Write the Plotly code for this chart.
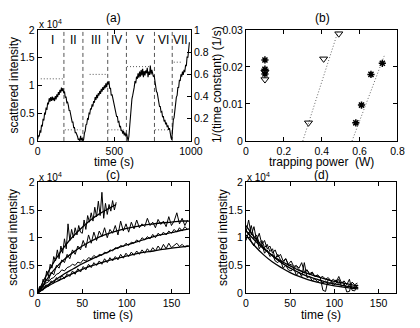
import plotly.graph_objects as go

FONT = "Liberation Sans"

# ---------------- panel (a) ----------------
a_intensity = [  # x 10^4, sampled every 5 s
    0.03,0.10,0.08,0.19,0.15,0.29,0.26,0.40,0.37,0.50,
    0.49,0.60,0.56,0.69,0.66,0.77,0.71,0.79,0.72,0.80,
    0.73,0.78,0.72,0.81,0.75,0.84,0.79,0.88,0.83,0.92,
    0.87,0.96,0.90,0.95,0.86,0.89,0.78,0.80,0.69,0.70,
    0.64,0.55,0.55,0.45,0.44,0.34,0.34,0.24,0.24,0.15,
    0.15,0.08,0.08,0.02,0.04,0.00,0.09,0.01,0.05,0.00,
    0.03,0.14,0.18,0.29,0.30,0.40,0.39,0.50,0.49,0.59,
    0.57,0.66,0.62,0.72,0.69,0.79,0.74,0.83,0.77,0.86,
    0.82,0.90,0.85,0.94,0.89,0.97,0.92,1.00,0.95,1.04,
    0.97,1.06,1.02,1.08,0.94,0.96,0.82,0.84,0.72,0.71,
    0.64,0.55,0.54,0.44,0.44,0.34,0.35,0.25,0.27,0.18,
    0.20,0.13,0.18,0.10,0.15,0.08,0.13,0.04,0.00,0.08,
    0.28,0.48,0.57,0.76,0.82,0.96,0.97,1.08,1.04,1.16,
    1.12,1.22,1.14,1.25,1.16,1.28,1.18,1.30,1.15,1.26,
    1.18,1.27,1.22,1.32,1.15,1.25,1.19,1.36,1.20,1.28,
    1.24,1.16,1.18,1.05,1.02,0.89,0.87,0.75,0.72,0.62,
    0.62,0.52,0.53,0.43,0.45,0.35,0.38,0.30,0.33,0.25,
    0.28,0.20,0.23,0.12,0.06,0.02,0.22,0.38,0.42,0.58,
    0.62,0.79,0.82,0.97,0.96,1.10,1.08,1.20,1.16,1.25,
    1.19,1.28,1.24,1.36,1.35,1.52,1.50,1.70,1.78,
]
a_time = [5 * i for i in range(len(a_intensity))]

region_bounds = [171, 295, 457, 579, 762, 878]
region_labels = ["I", "II", "III", "IV", "V", "VI", "VII"]
region_label_t = [96, 232, 380, 516, 665, 821, 929]

power_level = [0.56, 0.10, 0.60, 0.10, 0.67, 0.10, 0.71]
power_start = [20, 177, 339, 461, 583, 766, 888]
power_end = [167, 278, 451, 563, 736, 858, 939]

# ---------------- panel (b) ----------------
star_power = [0.10, 0.10, 0.10, 0.58, 0.61, 0.66, 0.72]
star_rate = [0.0219, 0.0194, 0.0181, 0.0049, 0.0097, 0.0180, 0.0210]
tri_power = [0.10, 0.10, 0.33, 0.41, 0.49]
tri_rate = [0.0186, 0.0166, 0.0049, 0.0222, 0.0290]
fit_tri_x = [0.30, 0.485]
fit_tri_y = [0.0, 0.0295]
fit_star_x = [0.56, 0.73]
fit_star_y = [0.0, 0.023]

# ---------------- panel (c) ----------------
c1 = [0.0,0.12,0.05,0.25,0.18,0.40,0.30,0.52,0.45,0.66,
      0.58,0.78,0.62,0.85,0.72,0.98,0.80,1.25,0.95,1.15,
      1.0,1.18,1.05,1.22,1.10,1.08,1.32,1.15,1.40,1.28,
      1.45,1.30,1.55,1.38,1.66,1.40,1.82,1.35,1.62,1.42,
      1.60,1.48,1.67,1.50,1.64]
c2 = [0.02,0.12,0.10,0.25,0.22,0.38,0.33,0.50,0.45,0.60,
      0.55,0.70,0.62,0.78,0.70,0.85,0.78,0.95,0.82,1.05,
      0.90,1.10,0.95,1.12,1.02,1.18,1.00,1.15,1.08,1.22,
      1.05,1.30,1.12,1.25,1.10,1.28,1.16,1.32,1.18,1.25,
      1.20,1.35,1.22,1.28,1.18,1.33,1.24,1.30,1.20,1.38,
      1.22,1.30,1.45,1.25,1.35,1.22,1.32]
c3 = [0.02,0.08,0.12,0.18,0.20,0.26,0.28,0.34,0.36,0.42,
      0.40,0.46,0.48,0.52,0.50,0.56,0.54,0.60,0.58,0.64,
      0.62,0.68,0.64,0.70,0.68,0.74,0.72,0.78,0.76,0.82,
      0.80,0.86,0.84,0.90,0.86,0.92,0.90,0.96,0.92,1.00,
      0.96,1.02,0.98,1.06,1.00,1.08,1.04,1.10,1.05,1.12,
      1.08,1.15,1.10,1.18,1.12,1.20,1.15]
c4 = [0.0,0.08,0.05,0.15,0.12,0.22,0.18,0.28,0.22,0.32,
      0.26,0.35,0.30,0.40,0.34,0.44,0.38,0.48,0.42,0.52,
      0.46,0.55,0.50,0.58,0.52,0.62,0.55,0.64,0.58,0.66,
      0.60,0.70,0.63,0.72,0.66,0.74,0.68,0.76,0.70,0.78,
      0.72,0.80,0.74,0.82,0.76,0.85,0.78,0.88,0.80,0.90,
      0.82,0.86,0.90,0.84,0.88,0.83,0.86]
c1_step = 2
c_step = 3
fit_c1_t = [0, 10, 20, 30, 40, 50, 60, 70, 80, 88]
fit_c1 = [0, 0.33, 0.61, 0.84, 1.03, 1.19, 1.33, 1.44, 1.53, 1.60]
fit_c_t = [0, 10, 20, 30, 40, 50, 60, 70, 80, 90, 100, 110, 120, 130, 140, 150, 160, 170]
fit_c2 = [0, .24, .45, .61, .74, .85, .94, 1.02, 1.08, 1.13, 1.17, 1.20, 1.23, 1.25, 1.27, 1.28, 1.30, 1.30]
fit_c3 = [0, .13, .24, .35, .44, .53, .61, .68, .75, .82, .87, .92, .97, 1.02, 1.06, 1.09, 1.13, 1.16]
fit_c4 = [0, .11, .20, .28, .36, .43, .49, .54, .59, .63, .67, .71, .74, .76, .79, .81, .83, .85]

# ---------------- panel (d) ----------------
d1 = [1.10,1.32,1.05,1.20,0.95,1.08,0.88,0.95,0.80,0.85,
      0.72,0.78,0.65,0.70,0.58,0.62,0.52,0.58,0.48,0.50,
      0.45,0.55,0.38,0.42,0.35,0.38,0.30,0.33,0.28,0.05,
      0.03,0.25,0.22,0.18,0.24,0.15,0.20,0.18,0.02,0.03,
      0.20,0.15,0.18]
d2 = [0.95,1.10,0.92,0.85,1.00,0.80,0.88,0.72,0.78,0.66,
      0.70,0.58,0.55,0.60,0.45,0.50,0.42,0.40,0.45,0.32,
      0.38,0.30,0.55,0.28,0.30,0.22,0.26,0.20,0.24,0.18,
      0.22,0.16,0.20,0.14,0.18,0.25,0.12,0.16,0.10,0.15,
      0.08,0.12,0.10]
d3 = [1.15,1.05,1.22,0.98,1.05,0.90,0.95,0.82,0.88,0.75,
      0.80,0.62,0.70,0.60,0.55,0.62,0.50,0.52,0.46,0.48,
      0.42,0.40,0.36,0.42,0.33,0.36,0.30,0.32,0.28,0.30,
      0.25,0.28,0.22,0.25,0.20,0.30,0.18,0.22,0.15,0.25,
      0.05,0.04,0.15]
d_step = 3
fit_d_t = [0, 10, 20, 30, 40, 50, 60, 70, 80, 90, 100, 110, 120, 127]
fit_d1 = [1.22, 1.0, .82, .67, .55, .45, .37, .30, .25, .20, .165, .135, .11, .096]
fit_d2 = [1.05, .85, .69, .56, .46, .37, .30, .245, .20, .16, .13, .106, .086, .075]
fit_d3 = [1.12, .95, .80, .68, .575, .49, .41, .35, .30, .25, .21, .18, .15, .135]

fig = go.Figure()
blk = "black"

def line(x, y, xa, ya, **kw):
    style = dict(color=blk, width=1)
    style.update(kw.pop("style", {}))
    fig.add_trace(go.Scatter(x=x, y=y, xaxis=xa, yaxis=ya, mode="lines",
                             line=style, hoverinfo="skip", **kw))

# (a)
bx, by = [], []
for b in region_bounds:
    bx += [b, b, None]
    by += [0, 2, None]
line(bx, by, "x", "y", style=dict(color="#555", width=1, dash="4px,3px"))
px, py = [], []
for s, e, p in zip(power_start, power_end, power_level):
    px += [s, e, None]
    py += [p, p, None]
line(px, py, "x", "y5", style=dict(color="#555", width=1, dash="1px,2px"))
line(a_time, a_intensity, "x", "y", style=dict(color=blk, width=1.1))

# (b)
line(fit_tri_x, fit_tri_y, "x2", "y2", style=dict(color="#666", width=1, dash="1px,2px"))
line(fit_star_x, fit_star_y, "x2", "y2", style=dict(color="#666", width=1, dash="1px,2px"))
fig.add_trace(go.Scatter(x=tri_power, y=tri_rate, xaxis="x2", yaxis="y2", mode="markers",
                         marker=dict(symbol="triangle-down-open", size=7, color=blk,
                                     line=dict(width=1, color=blk))))
fig.add_trace(go.Scatter(x=star_power, y=star_rate, xaxis="x2", yaxis="y2", mode="markers",
                         marker=dict(symbol="asterisk-open", size=6, color=blk,
                                     line=dict(width=1.5, color=blk))))

# (c)
for arr, st in [(c1, c1_step), (c2, c_step), (c3, c_step), (c4, c_step)]:
    line([st * i for i in range(len(arr))], arr, "x3", "y3")
line(fit_c1_t, fit_c1, "x3", "y3", line_shape="spline", style=dict(width=1.3))
for f in (fit_c2, fit_c3, fit_c4):
    line(fit_c_t, f, "x3", "y3", line_shape="spline", style=dict(width=1.3))

# (d)
for arr in (d1, d2, d3):
    line([d_step * i for i in range(len(arr))], arr, "x4", "y4")
for f in (fit_d1, fit_d2, fit_d3):
    line(fit_d_t, f, "x4", "y4", line_shape="spline", style=dict(width=1.3))

tf = dict(family=FONT, size=10.5, color=blk)
base = dict(showline=True, linecolor=blk, linewidth=1, ticks="inside", ticklen=4,
            tickcolor=blk, showgrid=False, zeroline=False, tickfont=tf)

XA = [0.0857, 0.464]
XC = [0.0857, 0.460]
XB = [0.600, 0.974]
XD = [0.600, 0.971]
YT = [0.573, 0.924]
YB = [0.0915, 0.442]

fig.update_layout(
    width=420, height=328, margin=dict(l=0, r=0, t=0, b=0),
    paper_bgcolor="white", plot_bgcolor="white", showlegend=False,
    xaxis=dict(base, domain=XA, anchor="y", range=[0, 1000], tickvals=[0, 500, 1000], mirror="ticks"),
    yaxis=dict(base, domain=YT, anchor="x", range=[0, 2], tickvals=[0, 0.5, 1, 1.5, 2], mirror=True),
    yaxis5=dict(base, overlaying="y", anchor="x", side="right", range=[0, 1],
                tickvals=[0, 0.2, 0.4, 0.6, 0.8, 1]),
    xaxis2=dict(base, domain=XB, anchor="y2", range=[0, 0.8], tickvals=[0, 0.2, 0.4, 0.6, 0.8], mirror="ticks"),
    yaxis2=dict(base, domain=YT, anchor="x2", range=[0, 0.03], tickvals=[0, 0.01, 0.02, 0.03], mirror="ticks"),
    xaxis3=dict(base, domain=XC, anchor="y3", range=[0, 170], tickvals=[0, 50, 100, 150], mirror="ticks"),
    yaxis3=dict(base, domain=YB, anchor="x3", range=[0, 2], tickvals=[0, 0.5, 1, 1.5, 2], mirror="ticks"),
    xaxis4=dict(base, domain=XD, anchor="y4", range=[0, 170], tickvals=[0, 50, 100, 150], mirror="ticks"),
    yaxis4=dict(base, domain=YB, anchor="x4", range=[0, 2], tickvals=[0, 0.5, 1, 1.5, 2], mirror="ticks"),
)

W, H = 420, 328
def ann(text, x, y, size=12, angle=0, xanchor="center", yanchor="middle"):
    fig.add_annotation(text=text, x=x / W, y=1 - y / H, xref="paper", yref="paper",
                       showarrow=False, textangle=angle, xanchor=xanchor, yanchor=yanchor,
                       borderpad=0, font=dict(family=FONT, size=size, color=blk))

ann("(a)", 115, 12)
ann("(b)", 331, 12)
ann("(c)", 114, 175)
ann("(d)", 330, 175)
ann("x 10<sup>4</sup>", 36, 19, size=10, xanchor="left")
ann("x 10<sup>4</sup>", 36, 178, size=10, xanchor="left")
ann("x 10<sup>4</sup>", 252, 178, size=10, xanchor="left")
ann("time (s)", 115, 162)
ann("time (s)", 114, 321)
ann("time (s)", 330, 321)
ann("trapping power  (W)", 330, 162)
ann("scattered intensity", 11, 82, angle=-90)
ann("scattered intensity", 11, 240, angle=-90)
ann("scattered intensity", 228, 240, angle=-90)
ann("1/(time constant) (1/s)", 222, 82, angle=-90)

for lab, t in zip(region_labels, region_label_t):
    fig.add_annotation(text=lab, x=t, y=1.82, xref="x", yref="y", showarrow=False,
                       font=dict(family=FONT, size=12, color=blk))

fig.write_html("out.html", config={"displayModeBar": False},
               post_script="document.body.style.margin='0';document.body.style.overflow='hidden';")
